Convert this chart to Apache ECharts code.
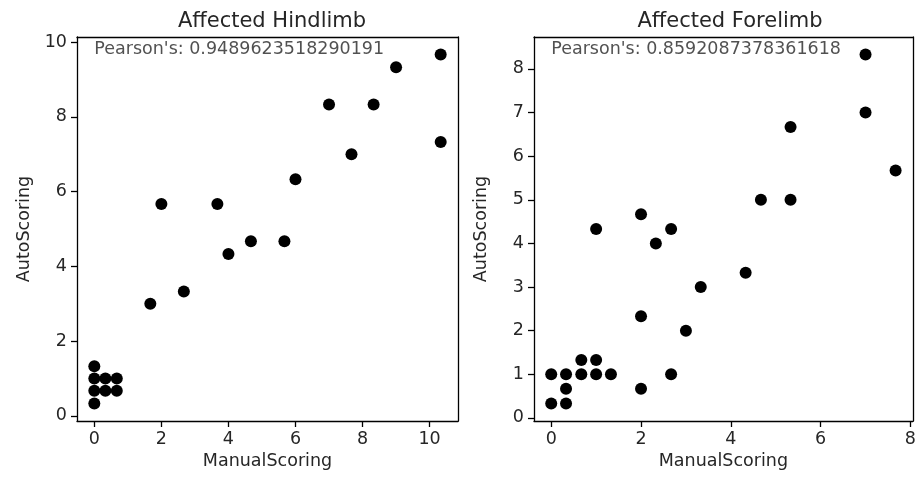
<!DOCTYPE html>
<html>
<head>
<meta charset="utf-8">
<script src="https://cdn.jsdelivr.net/npm/echarts@6/dist/echarts.min.js"></script>
<style>
  html, body { margin: 0; padding: 0; background: #fff; }
  #chart { width: 919px; height: 479px; }
</style>
</head>
<body>
<div id="chart"></div>
<script>
// Affected Hindlimb: manual vs auto scores
const hindManual = [0, 0, 0, 0, 0.33, 0.33, 0.67, 0.67, 1.67, 2, 2.67, 3.67, 4, 4.67, 5.67, 6, 7, 7.67, 8.33, 9, 10.33, 10.33];
const hindAuto = [0.33, 0.67, 1, 1.33, 0.67, 1, 0.67, 1, 3, 5.67, 3.33, 5.67, 4.33, 4.67, 4.67, 6.33, 8.33, 7, 8.33, 9.33, 9.67, 7.33];

// Affected Forelimb: manual vs auto scores
const foreManual = [0, 0, 0.33, 0.33, 0.33, 0.67, 0.67, 1, 1, 1, 1.33, 2, 2, 2, 2.33, 2.67, 2.67, 3, 3.33, 4.33, 4.67, 5.33, 5.33, 7, 7, 7.67];
const foreAuto = [0.33, 1, 0.33, 0.67, 1, 1, 1.33, 1, 1.33, 4.33, 1, 0.67, 2.33, 4.67, 4, 1, 4.33, 2, 3, 3.33, 5, 5, 6.67, 7, 8.33, 5.67];

const pearsonHind = "0.9489623518290191";
const pearsonFore = "0.8592087378361618";

// tick labels
const hindXTicks = [0, 2, 4, 6, 8, 10];
const hindYTicks = [0, 2, 4, 6, 8, 10];
const foreXTicks = [0, 2, 4, 6, 8];
const foreYTicks = [0, 1, 2, 3, 4, 5, 6, 7, 8];

const FONT = "DejaVu Sans";
const INK = "#262626";
const SIZE = 17.5;

// matplotlib style 5% margins around the data
const padMin = (v) => v.min - 0.05 * (v.max - v.min);
const padMax = (v) => v.max + 0.05 * (v.max - v.min);

const zip = (xs, ys) => xs.map((x, i) => [x, ys[i]]);

function makeAxis(gridIndex, ticks, name, isY) {
  return {
    type: "value",
    gridIndex: gridIndex,
    min: padMin,
    max: padMax,
    name: name,
    nameLocation: "middle",
    nameGap: isY ? 44 : 29,
    nameTextStyle: { fontFamily: FONT, fontSize: SIZE, color: INK },
    axisLine: { show: true, onZero: false, lineStyle: { color: "#000", width: 1.3 } },
    axisTick: { show: true, length: 6, customValues: ticks, lineStyle: { color: "#000", width: 1.3 } },
    axisLabel: {
      customValues: ticks,
      margin: isY ? 10 : 9,
      fontFamily: FONT,
      fontSize: SIZE,
      color: INK,
    },
    splitLine: { show: false },
  };
}

// spines on the opposite sides
function makeFrame(gridIndex, isY) {
  return {
    type: "value",
    gridIndex: gridIndex,
    position: isY ? "right" : "top",
    min: padMin,
    max: padMax,
    axisLine: { show: true, onZero: false, lineStyle: { color: "#000", width: 1.3 } },
    axisTick: { show: false },
    axisLabel: { show: false },
    splitLine: { show: false },
  };
}

function pearsonSeries(idx, xs, ys, text) {
  // text anchored at (0, max auto score)
  return {
    type: "scatter",
    xAxisIndex: idx,
    yAxisIndex: idx,
    symbolSize: 0,
    silent: true,
    data: [[0, Math.max(...ys)]],
    label: {
      show: true,
      position: [0, 0],
      align: "left",
      verticalAlign: "bottom",
      offset: [0, 4],
      formatter: "Pearson's: " + text,
      fontFamily: FONT,
      fontSize: SIZE,
      color: INK,
    },
  };
}

function dots(idx, xs, ys) {
  return {
    type: "scatter",
    xAxisIndex: idx,
    yAxisIndex: idx,
    symbol: "circle",
    symbolSize: 12,
    itemStyle: { color: "#000", opacity: 1 },
    data: zip(xs, ys),
  };
}

const chart = echarts.init(document.getElementById("chart"), null, { renderer: "canvas" });

const option = {
  animation: false,
  backgroundColor: "#fff",
  title: [
    {
      text: "Affected Hindlimb",
      left: 267,
      textAlign: "center",
      top: 6,
      textStyle: { fontFamily: FONT, fontSize: 21, fontWeight: "normal", color: INK },
    },
    {
      text: "Affected Forelimb",
      left: 725,
      textAlign: "center",
      top: 6,
      textStyle: { fontFamily: FONT, fontSize: 21, fontWeight: "normal", color: INK },
    },
  ],
  grid: [
    { left: 77, top: 37, width: 381, height: 384 },
    { left: 534, top: 37, width: 383, height: 384 },
  ],
  xAxis: [
    makeAxis(0, hindXTicks, "ManualScoring", false),
    makeAxis(1, foreXTicks, "ManualScoring", false),
    makeFrame(0, false),
    makeFrame(1, false),
  ],
  yAxis: [
    makeAxis(0, hindYTicks, "AutoScoring", true),
    makeAxis(1, foreYTicks, "AutoScoring", true),
    makeFrame(0, true),
    makeFrame(1, true),
  ],
  series: [
    dots(0, hindManual, hindAuto),
    dots(1, foreManual, foreAuto),
    pearsonSeries(0, hindManual, hindAuto, pearsonHind),
    pearsonSeries(1, foreManual, foreAuto, pearsonFore),
  ],
};

chart.setOption(option);
</script>
</body>
</html>
